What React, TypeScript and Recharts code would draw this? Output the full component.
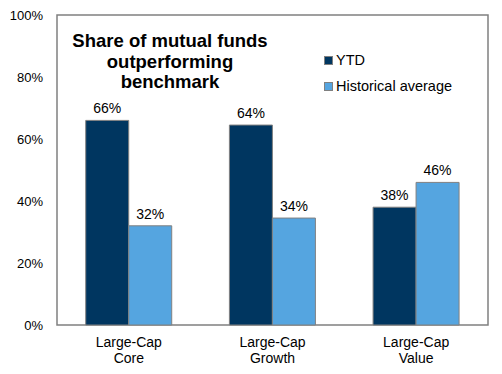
import { Bar, BarChart, LabelList, ReferenceArea, XAxis, YAxis } from "recharts";

const categories = ["Large-Cap Core", "Large-Cap Growth", "Large-Cap Value"];
const ytdValues = [66, 64.5, 38];
const ytdLabels = ["66%", "64%", "38%"];
const historicalValues = [32, 34.5, 46];
const historicalLabels = ["32%", "34%", "46%"];
const yTicks = [0, 20, 40, 60, 80, 100];

const titleLines = ["Share of mutual funds", "outperforming", "benchmark"];

const data = categories.map((name, i) => ({
  name,
  ytd: ytdValues[i],
  ytdLabel: ytdLabels[i],
  historical: historicalValues[i],
  historicalLabel: historicalLabels[i]
}));

const DARK = "#003660";
const LIGHT = "#55A5E0";
const BORDER = "#808080";
const FONT = "'Liberation Sans', Arial, sans-serif";

const legendItems = [
  { label: "YTD", color: DARK },
  { label: "Historical average", color: LIGHT }
];

function CategoryTick({ x, y, payload }: any) {
  const words = String(payload.value).split(" ");
  return (
    <text x={x} y={y} textAnchor="middle" fill="#000" fontSize={14} fontFamily={FONT}>
      {words.map((w, i) => (
        <tspan key={i} x={x} dy={i === 0 ? 14 : 16}>
          {w}
        </tspan>
      ))}
    </text>
  );
}

export default function App() {
  return (
    <div
      style={{
        position: "absolute",
        left: 0,
        top: 0,
        width: 502,
        height: 374,
        background: "#fff",
        fontFamily: FONT
      }}
    >
      <BarChart
        width={502}
        height={374}
        data={data}
        margin={{ top: 15, right: 14, bottom: 0, left: 0 }}
        barGap={0}
        barCategoryGap="20%"
      >
        <XAxis
          dataKey="name"
          height={49}
          axisLine={false}
          tickLine={false}
          tick={<CategoryTick />}
          interval={0}
        />
        <YAxis
          width={57}
          domain={[0, 100]}
          ticks={yTicks}
          axisLine={false}
          tickLine={false}
          tickSize={8}
          tickMargin={6}
          tickFormatter={(v: number) => `${v}%`}
          tick={{ fill: "#000", fontSize: 13, fontFamily: FONT }}
        />
        <ReferenceArea y1={0} y2={100} fill="none" stroke={BORDER} strokeWidth={1.5} ifOverflow="visible" />
        <Bar dataKey="ytd" fill={DARK} stroke={BORDER} strokeWidth={1} isAnimationActive={false}>
          <LabelList dataKey="ytdLabel" position="top" offset={7} fill="#000" fontSize={14} fontFamily={FONT} />
        </Bar>
        <Bar dataKey="historical" fill={LIGHT} stroke={BORDER} strokeWidth={1} isAnimationActive={false}>
          <LabelList dataKey="historicalLabel" position="top" offset={7} fill="#000" fontSize={14} fontFamily={FONT} />
        </Bar>
      </BarChart>

      <div
        style={{
          position: "absolute",
          left: 70,
          top: 31,
          width: 200,
          textAlign: "center",
          fontWeight: "bold",
          fontSize: 18.5,
          lineHeight: "20.5px",
          color: "#000"
        }}
      >
        {titleLines.map((line) => (
          <div key={line}>{line}</div>
        ))}
      </div>

      <div style={{ position: "absolute", left: 324, top: 47, fontSize: 14.5, color: "#000" }}>
        {legendItems.map((item) => (
          <div key={item.label} style={{ display: "flex", alignItems: "center", height: 26 }}>
            <span
              style={{
                display: "inline-block",
                width: 7,
                height: 7,
                background: item.color,
                border: `1px solid ${BORDER}`,
                marginRight: 3
              }}
            />
            <span>{item.label}</span>
          </div>
        ))}
      </div>
    </div>
  );
}
